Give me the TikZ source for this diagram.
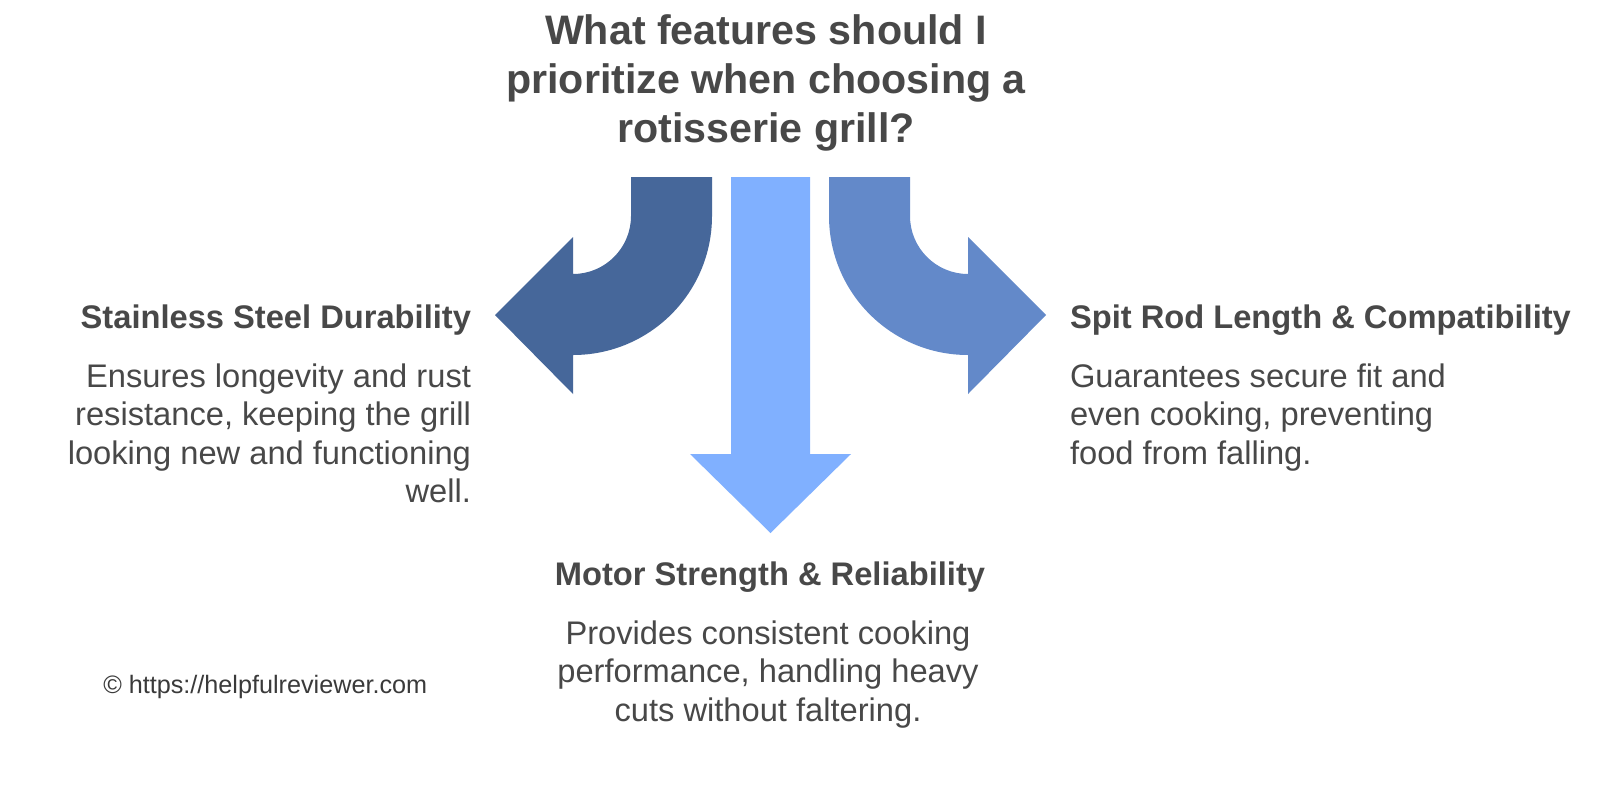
\documentclass[tikz,border=0pt]{standalone}
\usepackage{fontspec}
\setmainfont{Liberation Sans}
\definecolor{txt}{HTML}{484848}
\definecolor{cpy}{HTML}{3A3A3A}
\definecolor{darkblue}{HTML}{46679A}
\definecolor{midblue}{HTML}{80B0FF}
\definecolor{rightblue}{HTML}{6389C9}
\newcommand\linesR[2]{\vtop{\baselineskip=#1\halign{\hfil##\cr#2\crcr}}}
\newcommand\linesC[2]{\vtop{\baselineskip=#1\halign{\hfil##\hfil\cr#2\crcr}}}
\newcommand\linesL[2]{\vtop{\baselineskip=#1\halign{##\hfil\cr#2\crcr}}}
\tikzset{
  txtnode/.style={inner sep=0pt, outer sep=0pt, text=txt},
  titlefont/.style={font=\fontsize{30.9pt}{36.75pt}\selectfont\bfseries},
  headfont/.style={font=\fontsize{24.5pt}{28.7pt}\selectfont\bfseries},
  bodyfont/.style={font=\fontsize{24.5pt}{28.7pt}\selectfont}
}
\begin{document}
\begin{tikzpicture}[x=0.75pt,y=-0.75pt]
\useasboundingbox[fill=white] (0,0) rectangle (1600,811);
% left arrow
\fill[darkblue] (631,177) -- (712,177) -- (712,216)
  .. controls (712,292.8) and (649.8,355) .. (573,355)
  -- (573,394) -- (495,315) -- (573,237) -- (573,274)
  .. controls (605,274) and (631,248) .. (631,216) -- cycle;
% right arrow
\fill[rightblue] (910,177) -- (829,177) -- (829,216)
  .. controls (829,292.8) and (891.2,355) .. (968,355)
  -- (968,394) -- (1046,315) -- (968,237) -- (968,274)
  .. controls (936,274) and (910,248) .. (910,216) -- cycle;
% middle arrow
\fill[midblue] (731,177) -- (810,177) -- (810,454) -- (851,454)
  -- (770.5,533) -- (690,454) -- (731,454) -- cycle;
% title
\node[txtnode, titlefont, anchor=base] (title) at (766,44)
  {\linesC{36.75pt}{What features should I\cr prioritize when choosing a\cr rotisserie grill?}};
% left block
\node[txtnode, headfont, anchor=base east] (lhead) at (471,328)
  {Stainless Steel Durability};
\node[txtnode, bodyfont, anchor=base east] (lbody) at (471,387.5)
  {\linesR{28.7pt}{Ensures longevity and rust\cr resistance, keeping the grill\cr looking new and functioning\cr well.}};
% right block
\node[txtnode, headfont, anchor=base west] (rhead) at (1070,328)
  {Spit Rod Length \& Compatibility};
\node[txtnode, bodyfont, anchor=base west] (rbody) at (1070,387.5)
  {\linesL{28.7pt}{Guarantees secure fit and\cr even cooking, preventing\cr food from falling.}};
% middle block
\node[txtnode, headfont, anchor=base] (mhead) at (770,585.5)
  {Motor Strength \& Reliability};
\node[txtnode, bodyfont, anchor=base] (mbody) at (768,644.5)
  {\linesC{28.7pt}{Provides consistent cooking\cr performance, handling heavy\cr cuts without faltering.}};
% copyright
\node[inner sep=0pt, text=cpy, font=\fontsize{18.9pt}{22pt}\selectfont, anchor=base west] (copy) at (103,693)
  {© https://helpfulreviewer.com};
\end{tikzpicture}
\end{document}
